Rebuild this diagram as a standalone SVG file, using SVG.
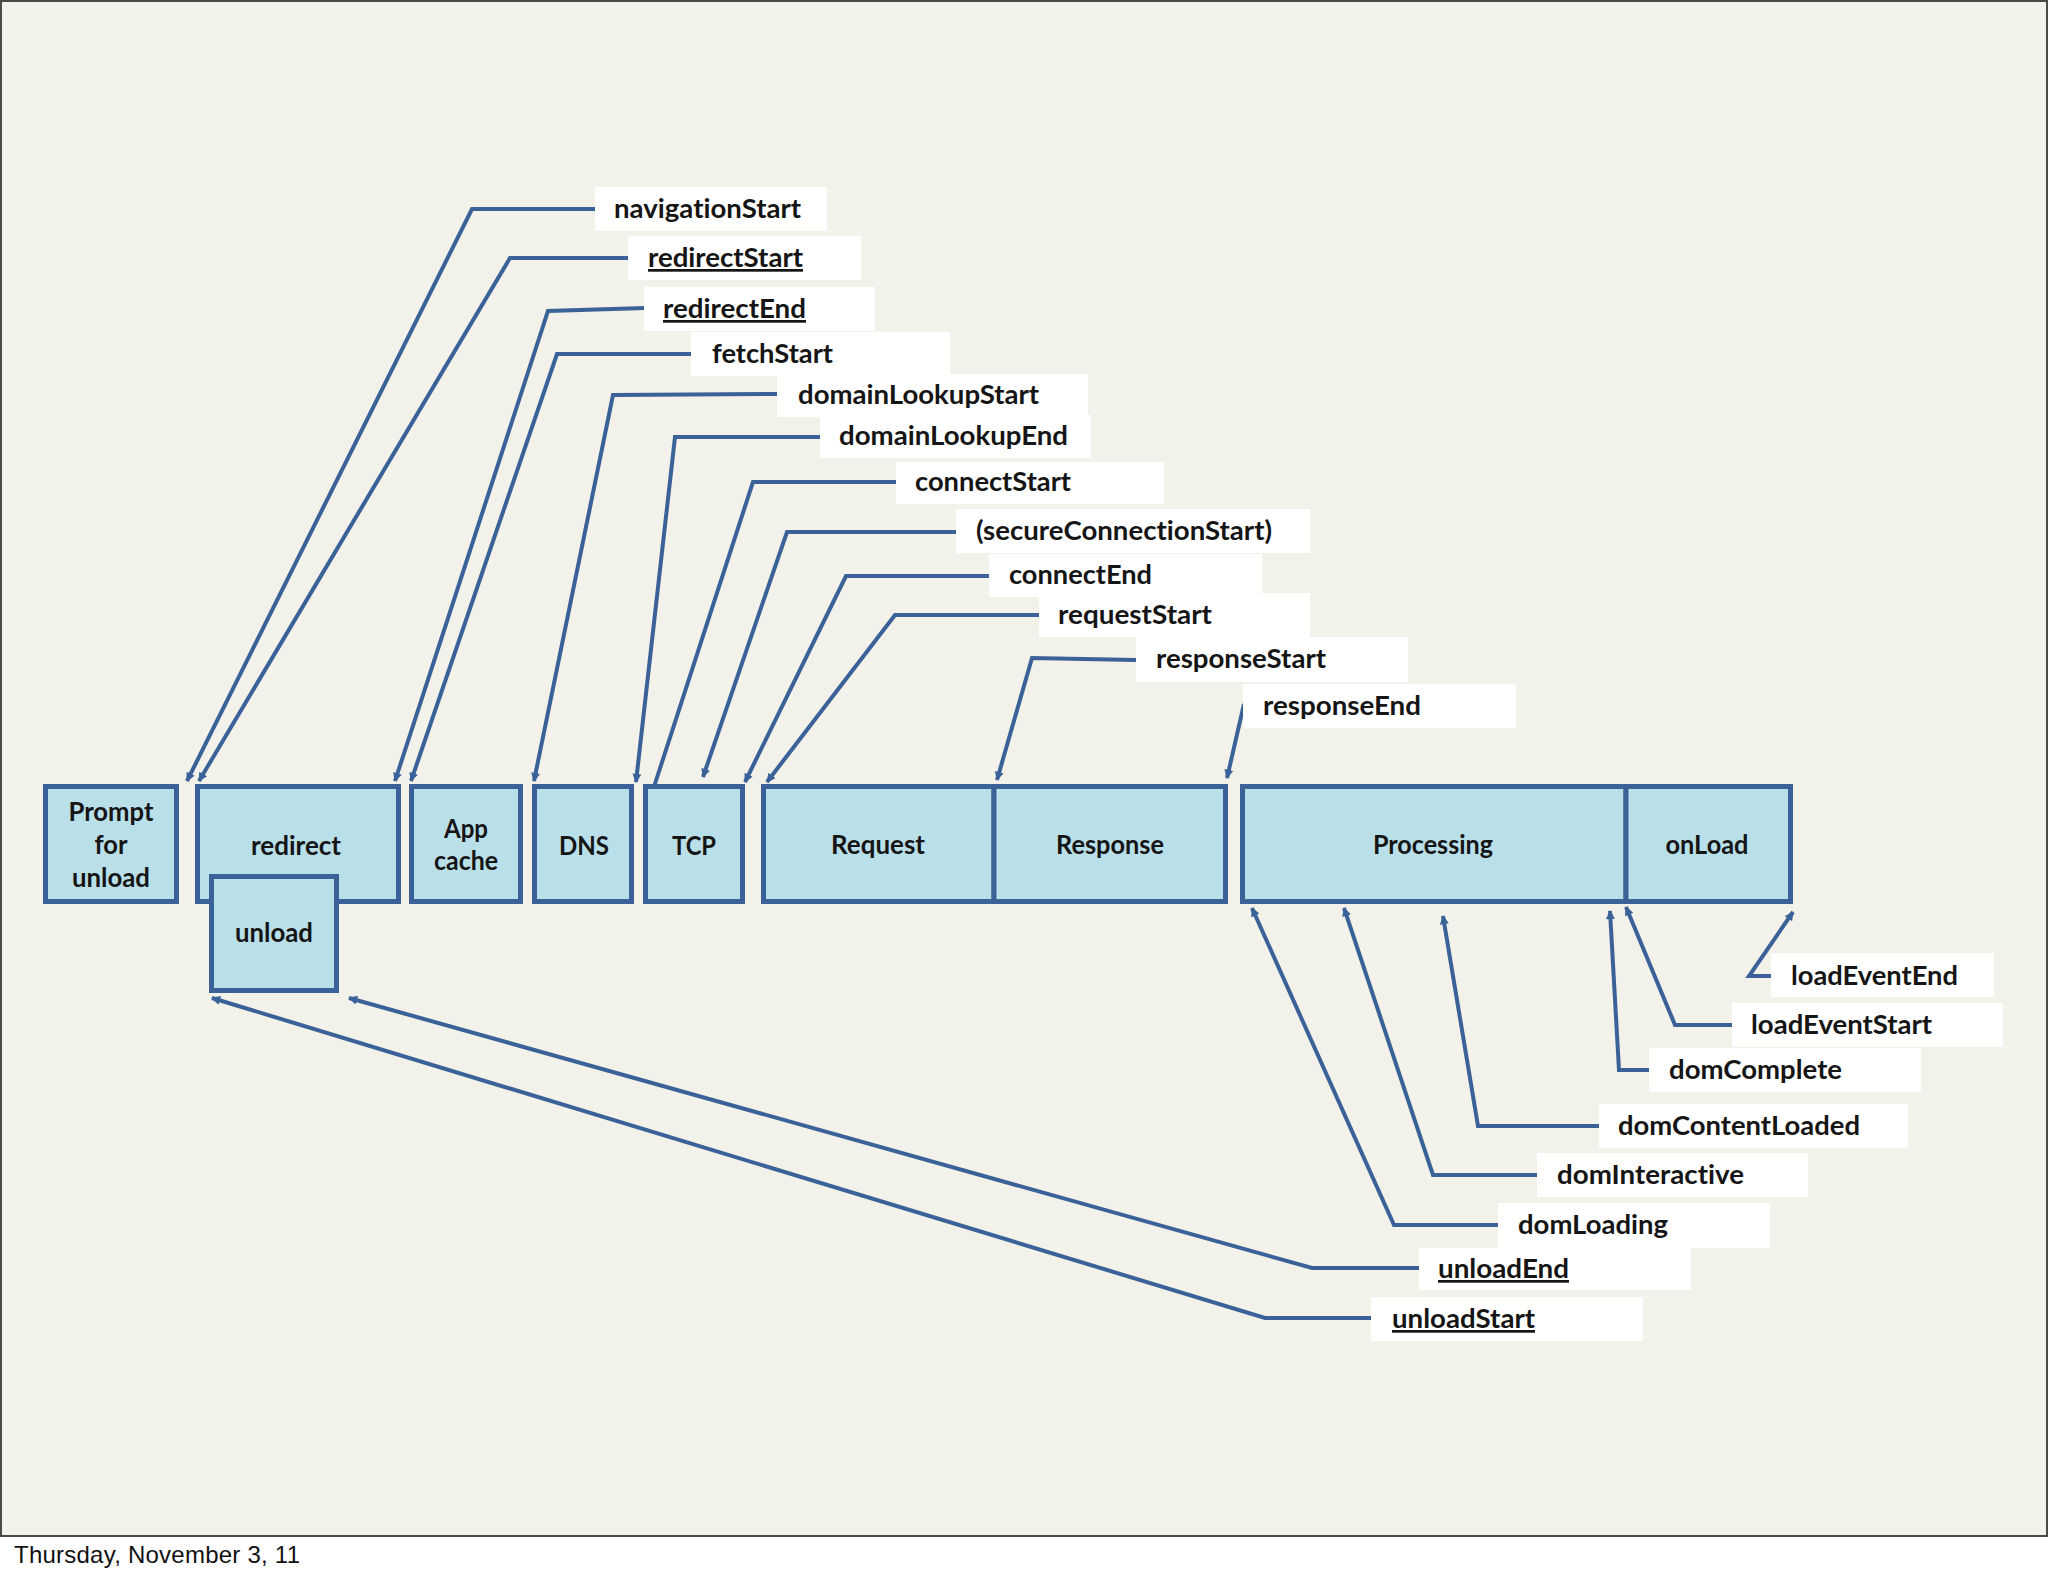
<svg xmlns="http://www.w3.org/2000/svg" width="2048" height="1576" viewBox="0 0 2048 1576">
<defs>
<marker id="arr" viewBox="0 0 10 10" refX="9" refY="5" markerWidth="13" markerHeight="9" markerUnits="userSpaceOnUse" orient="auto">
<path d="M0,0 L10,5 L0,10 z" fill="#3b6298"/>
</marker>
<style>
.stage{fill:#b9dfe9;stroke:#3b6298;stroke-width:5}
.stxt{font-family:Lato,"Noto Sans",sans-serif;font-weight:bold;font-size:26px;fill:#151515;text-anchor:middle;font-variant-ligatures:none}
.lbox{fill:#ffffff}
.ltxt{font-family:Lato,"Noto Sans",sans-serif;font-weight:bold;font-size:27px;fill:#151515;font-variant-ligatures:none}
.u{text-decoration:underline}
.conn{fill:none;stroke:#3b6298;stroke-width:4;stroke-linejoin:miter;marker-end:url(#arr)}
.foot{font-family:"Liberation Sans",Arial,sans-serif;font-size:24px;fill:#111}
</style>
</defs>
<rect x="0" y="0" width="2048" height="1576" fill="#ffffff"/>
<rect x="1" y="1" width="2046" height="1535" fill="#f2f1ea" stroke="#4a4a4a" stroke-width="2"/>

<g id="connectors">
<path class="conn" d="M595,209 H472 L187,781"/>
<path class="conn" d="M628,258 H510 L199,781"/>
<path class="conn" d="M645,308 L548,311 L395,781"/>
<path class="conn" d="M691,354 H557 L411,781"/>
<path class="conn" d="M777,394 L613,395 L534,781"/>
<path class="conn" d="M820,437 H675 L636,782"/>
<path class="conn" d="M896,482 H753 L652,793"/>
<path class="conn" d="M956,532 H787 L703,777"/>
<path class="conn" d="M989,576 H846 L745,782"/>
<path class="conn" d="M1039,615 H895 L767,782"/>
<path class="conn" d="M1136,660 L1032,658 L997,780"/>
<path class="conn" d="M1244,704 L1227,778"/>
<path class="conn" d="M1771,976 H1749 L1793,912"/>
<path class="conn" d="M1732,1025 H1675 L1626,907"/>
<path class="conn" d="M1649,1070 H1619 L1610,911"/>
<path class="conn" d="M1599,1126 H1478 L1443,916"/>
<path class="conn" d="M1537,1175 H1433 L1344,908"/>
<path class="conn" d="M1498,1225 H1394 L1252,908"/>
<path class="conn" d="M1419,1268 H1312 L349,998"/>
<path class="conn" d="M1371,1318 H1265 L212,998"/>
</g>

<g id="prompt-for-unload"><rect class="stage" x="45.5" y="786.5" width="131" height="115"/>
<text class="stxt" x="111" y="821" textLength="85" lengthAdjust="spacingAndGlyphs">Prompt</text>
<text class="stxt" x="111" y="854" textLength="33" lengthAdjust="spacingAndGlyphs">for</text>
<text class="stxt" x="111" y="887" textLength="78" lengthAdjust="spacingAndGlyphs">unload</text></g>
<g id="redirect"><rect class="stage" x="197.5" y="786.5" width="201" height="115"/>
<text class="stxt" x="296" y="855" textLength="90" lengthAdjust="spacingAndGlyphs">redirect</text></g>
<g id="unload"><rect class="stage" x="211.5" y="876.5" width="125" height="114"/>
<text class="stxt" x="274" y="942" textLength="78" lengthAdjust="spacingAndGlyphs">unload</text></g>
<g id="app-cache"><rect class="stage" x="411.5" y="786.5" width="109" height="115"/>
<text class="stxt" x="466" y="838" textLength="44" lengthAdjust="spacingAndGlyphs">App</text>
<text class="stxt" x="466" y="870" textLength="64" lengthAdjust="spacingAndGlyphs">cache</text></g>
<g id="dns"><rect class="stage" x="534.5" y="786.5" width="97" height="115"/>
<text class="stxt" x="584" y="855" textLength="50" lengthAdjust="spacingAndGlyphs">DNS</text></g>
<g id="tcp"><rect class="stage" x="645.5" y="786.5" width="97" height="115"/>
<text class="stxt" x="694" y="855" textLength="44" lengthAdjust="spacingAndGlyphs">TCP</text></g>
<g id="request"><rect class="stage" x="763.5" y="786.5" width="230.5" height="115"/>
<text class="stxt" x="878" y="854" textLength="94" lengthAdjust="spacingAndGlyphs">Request</text></g>
<g id="response"><rect class="stage" x="994" y="786.5" width="231.5" height="115"/>
<text class="stxt" x="1110" y="854" textLength="108" lengthAdjust="spacingAndGlyphs">Response</text></g>
<g id="processing"><rect class="stage" x="1242.5" y="786.5" width="383.5" height="115"/>
<text class="stxt" x="1433" y="854" textLength="120" lengthAdjust="spacingAndGlyphs">Processing</text></g>
<g id="onload"><rect class="stage" x="1626" y="786.5" width="164.5" height="115"/>
<text class="stxt" x="1707" y="854" textLength="83" lengthAdjust="spacingAndGlyphs">onLoad</text></g>

<g id="navigationStart"><rect class="lbox" x="595" y="187" width="232" height="44"/><text class="ltxt" x="614" y="218" textLength="187" lengthAdjust="spacingAndGlyphs">navigationStart</text></g>
<g id="redirectStart"><rect class="lbox" x="628" y="236" width="233" height="44"/><text class="ltxt u" x="648" y="267" textLength="155" lengthAdjust="spacingAndGlyphs">redirectStart</text></g>
<g id="redirectEnd"><rect class="lbox" x="644" y="287" width="231" height="44"/><text class="ltxt u" x="663" y="318" textLength="143" lengthAdjust="spacingAndGlyphs">redirectEnd</text></g>
<g id="fetchStart"><rect class="lbox" x="691" y="332" width="259" height="44"/><text class="ltxt" x="712" y="363" textLength="121" lengthAdjust="spacingAndGlyphs">fetchStart</text></g>
<g id="domainLookupStart"><rect class="lbox" x="777" y="374" width="311" height="43"/><text class="ltxt" x="798" y="404" textLength="241" lengthAdjust="spacingAndGlyphs">domainLookupStart</text></g>
<g id="domainLookupEnd"><rect class="lbox" x="820" y="415" width="271" height="43"/><text class="ltxt" x="839" y="445" textLength="229" lengthAdjust="spacingAndGlyphs">domainLookupEnd</text></g>
<g id="connectStart"><rect class="lbox" x="896" y="462" width="268" height="42"/><text class="ltxt" x="915" y="491" textLength="156" lengthAdjust="spacingAndGlyphs">connectStart</text></g>
<g id="secureConnectionStart"><rect class="lbox" x="956" y="509" width="354" height="44"/><text class="ltxt" x="976" y="540" textLength="296" lengthAdjust="spacingAndGlyphs">(secureConnectionStart)</text></g>
<g id="connectEnd"><rect class="lbox" x="989" y="554" width="273" height="43"/><text class="ltxt" x="1009" y="584" textLength="143" lengthAdjust="spacingAndGlyphs">connectEnd</text></g>
<g id="requestStart"><rect class="lbox" x="1039" y="593" width="271" height="44"/><text class="ltxt" x="1058" y="624" textLength="154" lengthAdjust="spacingAndGlyphs">requestStart</text></g>
<g id="responseStart"><rect class="lbox" x="1136" y="637" width="272" height="45"/><text class="ltxt" x="1156" y="668" textLength="170" lengthAdjust="spacingAndGlyphs">responseStart</text></g>
<g id="responseEnd"><rect class="lbox" x="1243" y="684" width="273" height="44"/><text class="ltxt" x="1263" y="715" textLength="158" lengthAdjust="spacingAndGlyphs">responseEnd</text></g>

<g id="loadEventEnd"><rect class="lbox" x="1771" y="953" width="223" height="44"/><text class="ltxt" x="1791" y="985" textLength="167" lengthAdjust="spacingAndGlyphs">loadEventEnd</text></g>
<g id="loadEventStart"><rect class="lbox" x="1732" y="1003" width="271" height="44"/><text class="ltxt" x="1751" y="1034" textLength="181" lengthAdjust="spacingAndGlyphs">loadEventStart</text></g>
<g id="domComplete"><rect class="lbox" x="1649" y="1048" width="272" height="44"/><text class="ltxt" x="1669" y="1079" textLength="173" lengthAdjust="spacingAndGlyphs">domComplete</text></g>
<g id="domContentLoaded"><rect class="lbox" x="1599" y="1104" width="309" height="44"/><text class="ltxt" x="1618" y="1135" textLength="242" lengthAdjust="spacingAndGlyphs">domContentLoaded</text></g>
<g id="domInteractive"><rect class="lbox" x="1537" y="1153" width="271" height="44"/><text class="ltxt" x="1557" y="1184" textLength="187" lengthAdjust="spacingAndGlyphs">domInteractive</text></g>
<g id="domLoading"><rect class="lbox" x="1498" y="1203" width="272" height="45"/><text class="ltxt" x="1518" y="1234" textLength="150" lengthAdjust="spacingAndGlyphs">domLoading</text></g>
<g id="unloadEnd"><rect class="lbox" x="1419" y="1248" width="272" height="42"/><text class="ltxt u" x="1438" y="1278" textLength="131" lengthAdjust="spacingAndGlyphs">unloadEnd</text></g>
<g id="unloadStart"><rect class="lbox" x="1371" y="1297" width="272" height="44"/><text class="ltxt u" x="1392" y="1328" textLength="143" lengthAdjust="spacingAndGlyphs">unloadStart</text></g>

<text class="foot" x="14" y="1563" textLength="286">Thursday, November 3, 11</text>
</svg>
